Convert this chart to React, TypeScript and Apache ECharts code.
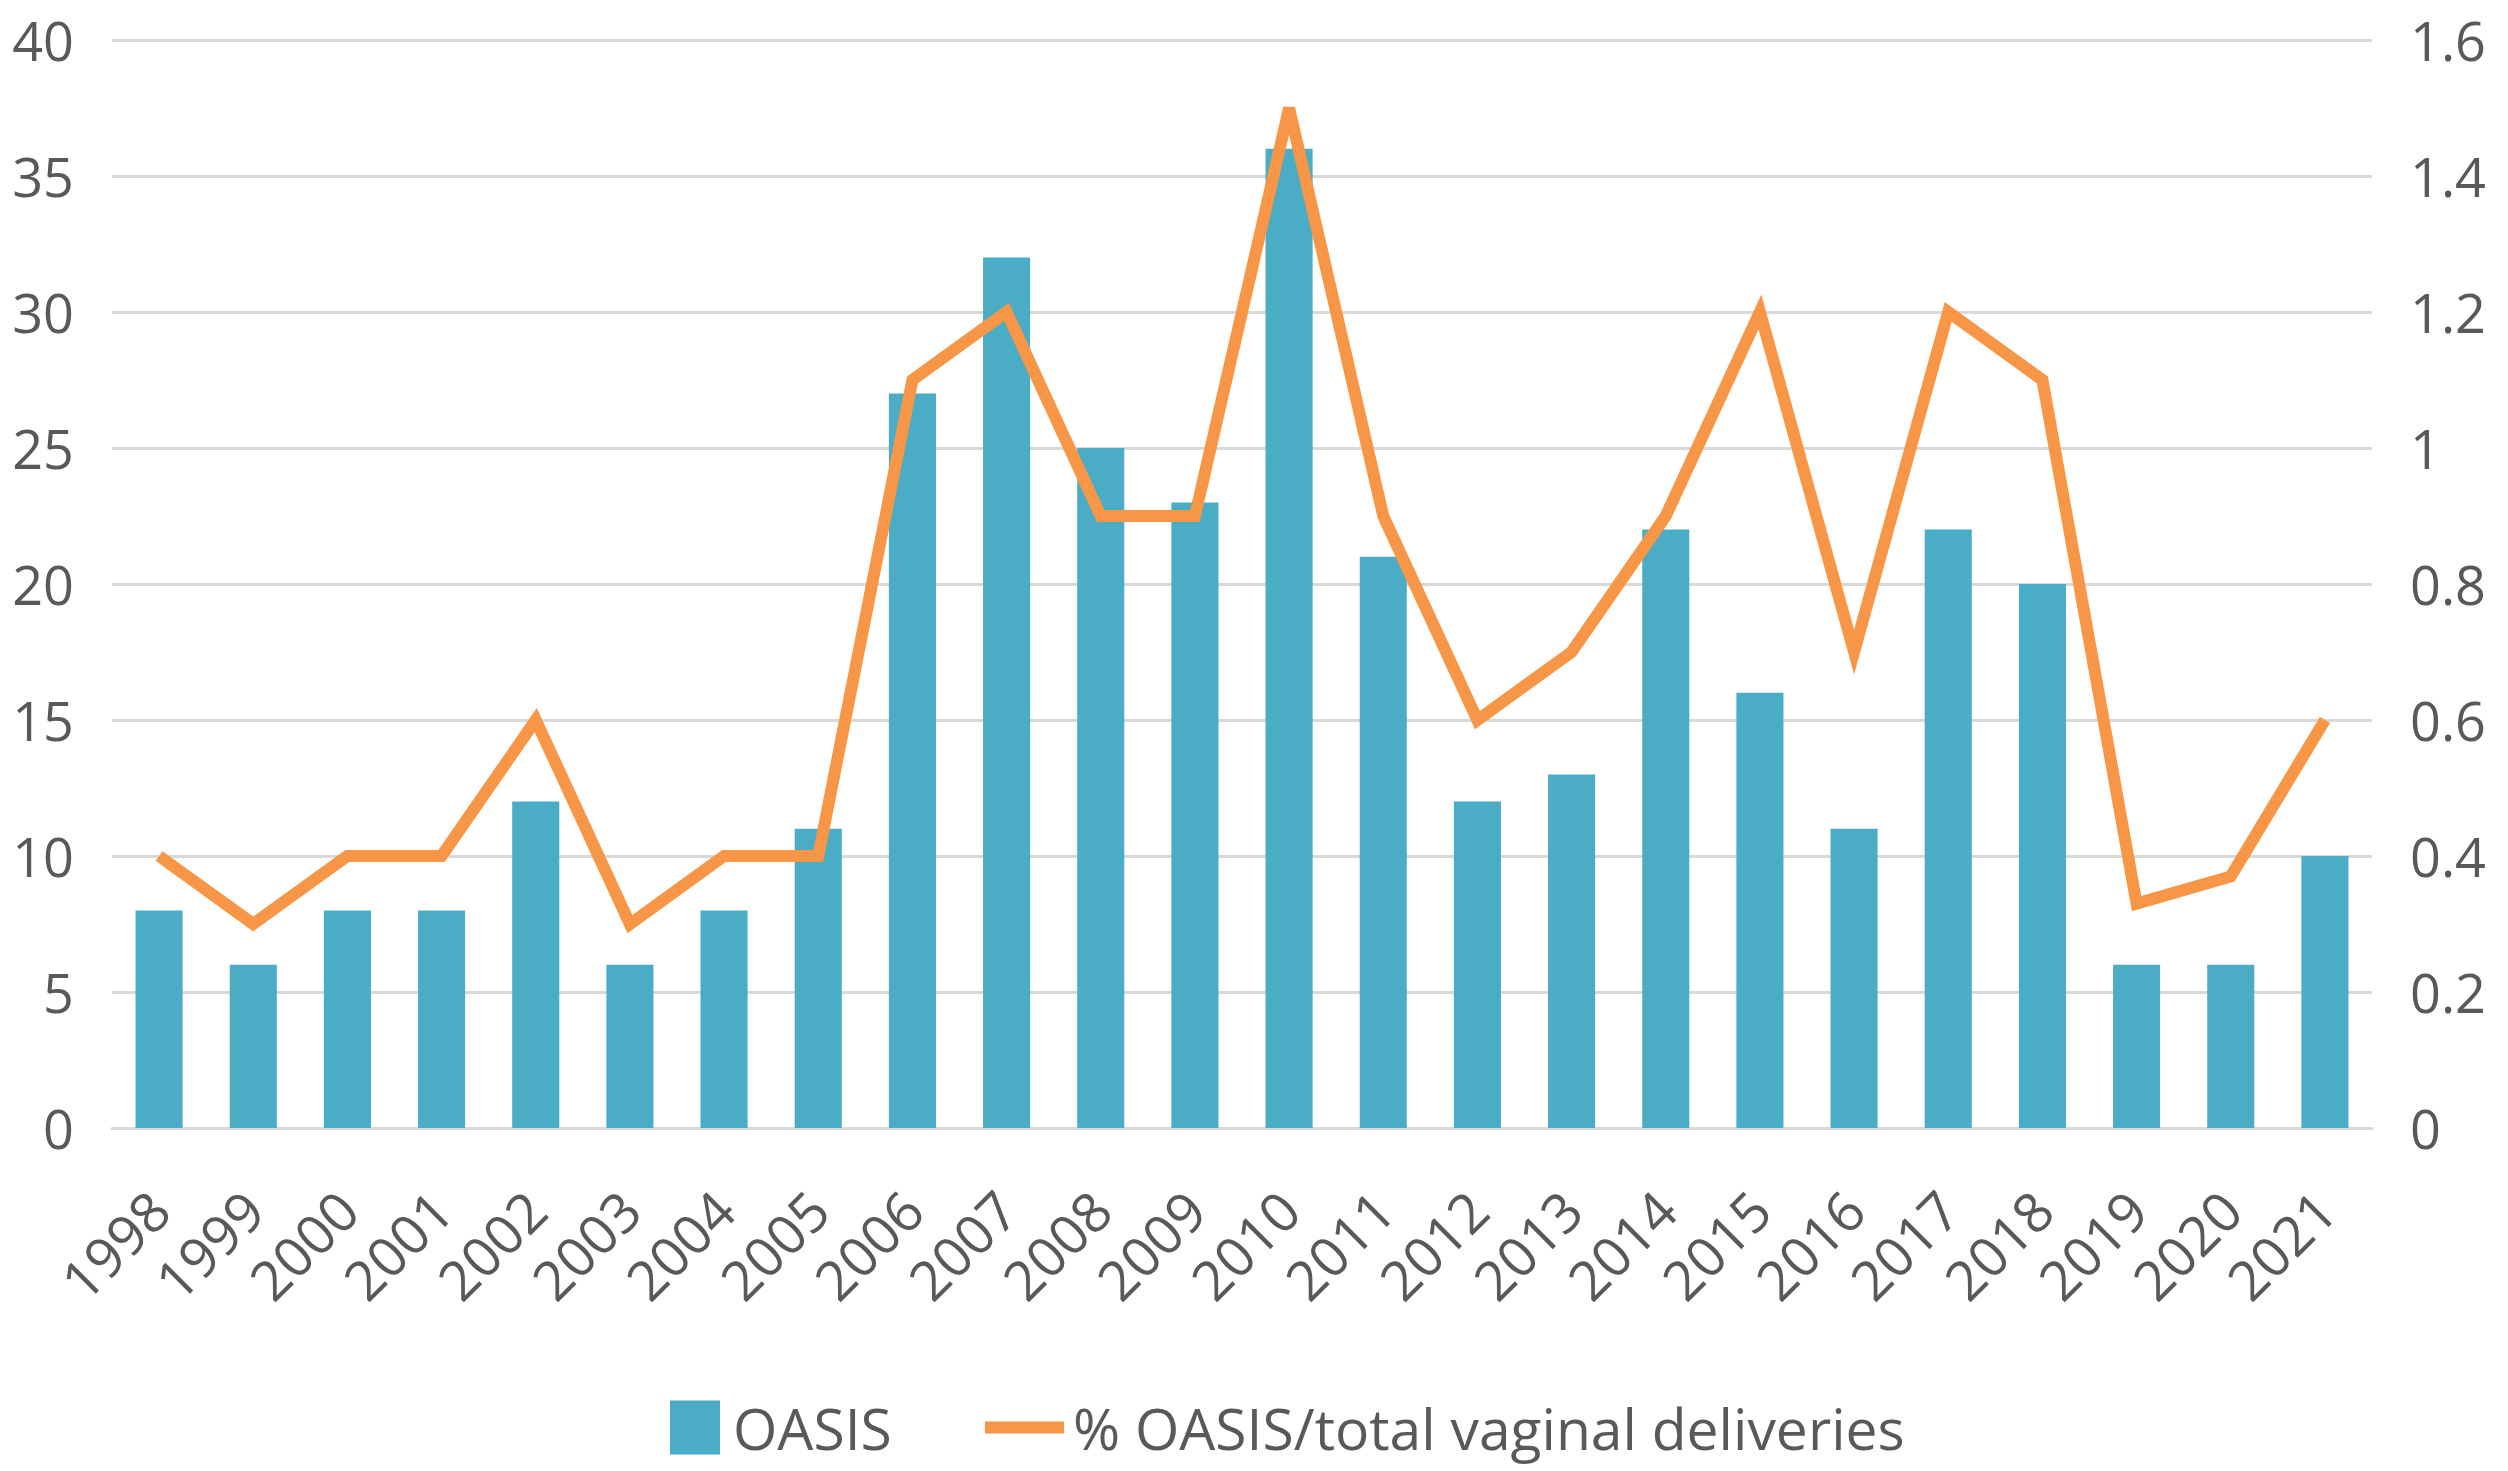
import React, { useEffect, useRef } from "react";
import * as echarts from "echarts";

// values
const years = [
  "1998", "1999", "2000", "2001", "2002", "2003", "2004", "2005",
  "2006", "2007", "2008", "2009", "2010", "2011", "2012", "2013",
  "2014", "2015", "2016", "2017", "2018", "2019", "2020", "2021",
];
const oasisCounts = [8, 6, 8, 8, 12, 6, 8, 11, 27, 32, 25, 23, 36, 21, 12, 13, 22, 16, 11, 22, 20, 6, 6, 10];
const oasisPercent = [
  0.4, 0.3, 0.4, 0.4, 0.6, 0.3, 0.4, 0.4, 1.1, 1.2, 0.9, 0.9, 1.5, 0.9,
  0.6, 0.7, 0.9, 1.2, 0.7, 1.2, 1.1, 0.33, 0.37, 0.6,
];

const BAR_NAME = "OASIS";
const LINE_NAME = "% OASIS/total vaginal deliveries";

const FONT = "'Open Sans', 'Noto Sans', sans-serif";
const TEXT = "#595959";
const GRID = "#d9d9d9";
const BLUE = "#4bacc6";
const ORANGE = "#f79646";

export default function App() {
  const chartRef = useRef<HTMLDivElement>(null);

  useEffect(() => {
    if (!chartRef.current) return;
    const chart = echarts.init(chartRef.current, undefined, { renderer: "svg" });

    chart.setOption({
      animation: false,
      backgroundColor: "#ffffff",
      textStyle: { fontFamily: FONT },
      grid: { left: 112, right: 136, top: 40, bottom: 343, containLabel: false },
      legend: [
        {
          data: [{ name: BAR_NAME, icon: "rect" }],
          left: 665,
          top: 1394,
          itemWidth: 50,
          itemHeight: 54,
          textStyle: { color: TEXT, fontSize: 57, fontFamily: FONT, padding: [0, 0, 0, 8] },
        },
        {
          data: [{ name: LINE_NAME, icon: "rect" }],
          left: 980,
          top: 1394,
          itemWidth: 79,
          itemHeight: 12,
          itemStyle: { borderWidth: 0 },
          textStyle: { color: TEXT, fontSize: 57, fontFamily: FONT, padding: [0, 0, 0, 4] },
        },
      ],
      xAxis: {
        type: "category",
        data: years,
        axisLine: { lineStyle: { color: GRID, width: 3 } },
        axisTick: { show: false },
        axisLabel: {
          color: TEXT,
          fontSize: 55,
          fontFamily: FONT,
          rotate: 45,
          margin: 72,
          interval: 0,
        },
      },
      yAxis: [
        {
          type: "value",
          min: 0,
          max: 40,
          interval: 5,
          axisLine: { show: false },
          axisTick: { show: false },
          splitLine: { lineStyle: { color: GRID, width: 3 } },
          axisLabel: { color: TEXT, fontSize: 54, fontFamily: FONT, margin: 38 },
        },
        {
          type: "value",
          min: 0,
          max: 1.6,
          interval: 0.2,
          axisLine: { show: false },
          axisTick: { show: false },
          splitLine: { show: false },
          axisLabel: { color: TEXT, fontSize: 54, fontFamily: FONT, margin: 38 },
        },
      ],
      series: [
        {
          name: BAR_NAME,
          type: "bar",
          data: oasisCounts,
          barWidth: "50%",
          itemStyle: { color: BLUE },
        },
        {
          name: LINE_NAME,
          type: "line",
          yAxisIndex: 1,
          data: oasisPercent,
          symbol: "none",
          itemStyle: { color: ORANGE },
          lineStyle: { color: ORANGE, width: 12, join: "miter", miterLimit: 10 },
        },
      ],
    });

    return () => {
      chart.dispose();
    };
  }, []);

  return (
    <div
      ref={chartRef}
      style={{ position: "fixed", left: 0, top: 0, width: 2508, height: 1471, background: "#fff" }}
    />
  );
}
